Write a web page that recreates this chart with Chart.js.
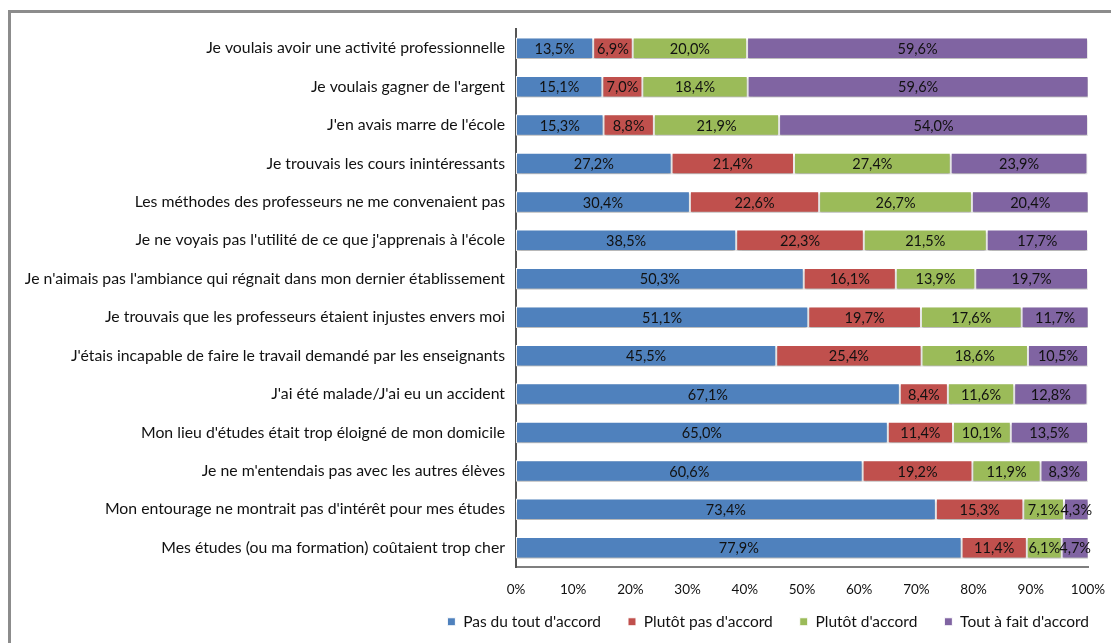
<!DOCTYPE html>
<html>
<head>
<meta charset="utf-8">
<script src="https://cdn.jsdelivr.net/npm/chart.js@4/dist/chart.umd.min.js"></script>
<style>
  html, body { margin: 0; padding: 0; background: #fff; overflow: hidden; }
  #frame {
    position: absolute; left: 8px; top: 10px;
    width: 1200px; height: 700px;
    border: 3px solid #8c8c8c; box-sizing: border-box;
  }
  #wrap { position: absolute; left: 0; top: 0; width: 1111px; height: 643px; }
</style>
</head>
<body>
<div id="frame"></div>
<div id="wrap"><canvas id="chart"></canvas></div>
<script>
const categories = [
  "Je voulais avoir une activité professionnelle",
  "Je voulais gagner de l'argent",
  "J'en avais marre de l'école",
  "Je trouvais les cours inintéressants",
  "Les méthodes des professeurs ne me convenaient pas",
  "Je ne voyais pas l'utilité de ce que j'apprenais à l'école",
  "Je n'aimais pas l'ambiance qui régnait dans mon dernier établissement",
  "Je trouvais que les professeurs étaient injustes envers moi",
  "J'étais incapable de faire le travail demandé par les enseignants",
  "J'ai été malade/J'ai eu un accident",
  "Mon lieu d'études était trop éloigné de mon domicile",
  "Je ne m'entendais pas avec les autres élèves",
  "Mon entourage ne montrait pas d'intérêt pour mes études",
  "Mes études (ou ma formation) coûtaient trop cher"
];
const pasDuTout   = [13.5, 15.1, 15.3, 27.2, 30.4, 38.5, 50.3, 51.1, 45.5, 67.1, 65.0, 60.6, 73.4, 77.9];
const plutotPas   = [6.9, 7.0, 8.8, 21.4, 22.6, 22.3, 16.1, 19.7, 25.4, 8.4, 11.4, 19.2, 15.3, 11.4];
const plutotAcc   = [20.0, 18.4, 21.9, 27.4, 26.7, 21.5, 13.9, 17.6, 18.6, 11.6, 10.1, 11.9, 7.1, 6.1];
const toutAFait   = [59.6, 59.6, 54.0, 23.9, 20.4, 17.7, 19.7, 11.7, 10.5, 12.8, 13.5, 8.3, 4.3, 4.7];
const seriesNames = ["Pas du tout d'accord", "Plutôt pas d'accord", "Plutôt d'accord", "Tout à fait d'accord"];
const colors = ['#4f81bd', '#c0504d', '#9bbb59', '#8064a2'];

const FONT = "Lato, 'Liberation Sans', sans-serif";

// soft shadow under the bars + value labels in the middle of each segment
const barLabels = {
  id: 'barLabels',
  afterLayout(chart) {
    // let the x tick labels draw below the (short) scale box
    chart.scales.x.bottom += 14;
  },
  beforeDatasetsDraw(chart) {
    const ctx = chart.ctx;
    ctx.save();
    ctx.shadowColor = 'rgba(0, 0, 0, 0.28)';
    ctx.shadowOffsetY = 2;
    ctx.shadowBlur = 2;
  },
  afterDatasetsDraw(chart) {
    const ctx = chart.ctx;
    ctx.restore();
    ctx.save();
    ctx.font = '14.5px ' + FONT;
    ctx.fillStyle = '#111';
    ctx.textAlign = 'center';
    ctx.textBaseline = 'middle';
    chart.data.datasets.forEach((ds, i) => {
      chart.getDatasetMeta(i).data.forEach((bar, j) => {
        const p = bar.getProps(['x', 'y', 'base'], true);
        const txt = ds.data[j].toFixed(1).replace('.', ',') + '%';
        ctx.fillText(txt, (p.x + p.base) / 2, p.y + 1);
      });
    });
    ctx.restore();
  }
};

const datasets = [pasDuTout, plutotPas, plutotAcc, toutAFait].map((d, i) => ({
  label: seriesNames[i],
  data: d,
  backgroundColor: colors[i],
  borderColor: '#ffffff',
  borderWidth: 1,
  borderSkipped: false,
  categoryPercentage: 1,
  barPercentage: 0.56
}));

new Chart(document.getElementById('chart'), {
  type: 'bar',
  data: { labels: categories, datasets: datasets },
  options: {
    indexAxis: 'y',
    responsive: true,
    maintainAspectRatio: false,
    animation: false,
    layout: { padding: { left: 0, right: -5, top: 29, bottom: 3.5 } },
    plugins: {
      legend: {
        position: 'bottom',
        align: 'end',
        labels: {
          color: '#111',
          font: { family: FONT, size: 15.5 },
          boxWidth: 8,
          boxHeight: 8,
          padding: 27
        }
      },
      tooltip: { enabled: false }
    },
    scales: {
      x: {
        stacked: true,
        min: 0,
        max: 100,
        grid: { display: false, drawTicks: false },
        border: { display: true, color: '#7f7f7f', width: 2 },
        ticks: {
          stepSize: 10,
          color: '#111',
          font: { family: FONT, size: 13.5 },
          padding: 15,
          callback: (v) => v + '%'
        },
        afterFit: (scale) => {
          scale.height = 20;
          scale.paddingLeft = 0;
          scale.paddingRight = 23;
        }
      },
      y: {
        stacked: true,
        grid: { display: false, drawTicks: false },
        border: { display: true, color: '#555', width: 2 },
        ticks: {
          color: '#111',
          font: { family: FONT, size: 15.8 },
          padding: 11
        },
        afterFit: (scale) => { scale.width = 516; }
      }
    }
  },
  plugins: [barLabels]
});
</script>
</body>
</html>
